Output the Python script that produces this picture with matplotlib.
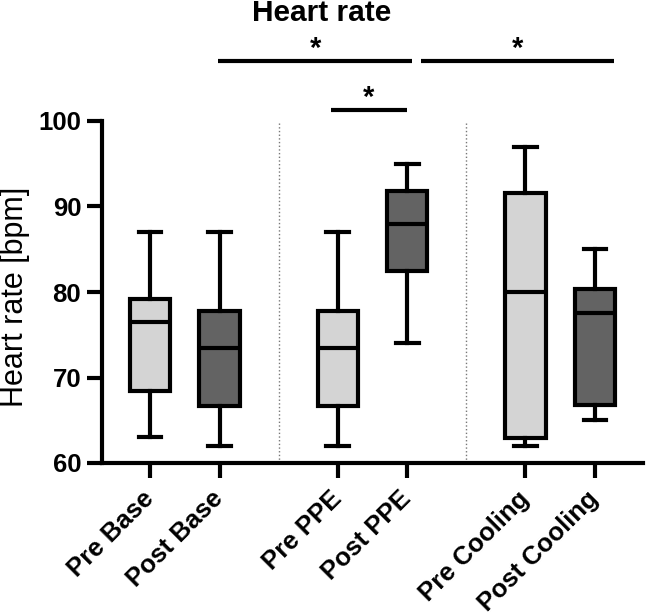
import matplotlib
matplotlib.use("Agg")
import matplotlib.pyplot as plt

plt.rcParams['font.family'] = ['Liberation Sans', 'DejaVu Sans']

# valeurs (bpm)
groups = ["Pre Base", "Post Base", "Pre PPE", "Post PPE", "Pre Cooling", "Post Cooling"]
whisker_low = [63, 62, 62, 74, 62, 65]
q1 = [68.4, 66.7, 66.7, 82.4, 62.9, 66.8]
median = [76.5, 73.5, 73.5, 88.0, 80.0, 77.5]
q3 = [79.2, 77.8, 77.8, 91.8, 91.6, 80.3]
whisker_high = [87, 87, 87, 95, 97, 85]
fills = ["#d4d4d4", "#636363"] * 3

# comparaisons significatives (indices des groupes) et niveau
comparisons = [(1, 3, 107.0), (3, 5, 107.0), (2, 3, 101.3)]
comp_labels = ["*", "*", "*"]

# positions : paires de boites avec un espace entre les conditions
pos = [(i // 2) * 2.7 + (i % 2) for i in range(len(groups))]

stats = []
for i, name in enumerate(groups):
    stats.append({"label": name, "med": median[i], "q1": q1[i], "q3": q3[i],
                  "whislo": whisker_low[i], "whishi": whisker_high[i], "fliers": []})

fig = plt.figure(figsize=(6.46, 6.16), dpi=100)
ax = fig.add_axes([102 / 646, 1 - 463 / 616, 541 / 646, 342 / 616])

bp = ax.bxp(stats, positions=pos, widths=0.58, patch_artist=True, showfliers=False,
            boxprops=dict(linewidth=3, edgecolor="black"),
            whiskerprops=dict(linewidth=3, color="black"),
            capprops=dict(linewidth=3, color="black"),
            medianprops=dict(linewidth=3, color="black"),
            capwidths=0.33)
for patch, c in zip(bp["boxes"], fills):
    patch.set_facecolor(c)

# séparateurs pointillés entre conditions
for k in (1, 3):
    ax.axvline((pos[k] + pos[k + 1]) / 2, color="#777777", linestyle=":", linewidth=1, zorder=0)

ax.set_xlim(pos[0] - 0.69, pos[-1] + 0.69)
ax.set_ylim(60, 100)
ax.set_yticks([60, 70, 80, 90, 100])
ax.set_xticks(pos)
ax.set_xticklabels(groups, rotation=45, ha="right", va="center", rotation_mode="anchor",
                   fontweight="bold", fontsize=18.5)
ax.set_yticklabels(["60", "70", "80", "90", "100"], fontweight="bold", fontsize=18.5)
ax.tick_params(axis="both", width=3, length=11, pad=4)
ax.tick_params(axis="x", pad=12)

for s in ("top", "right"):
    ax.spines[s].set_visible(False)
for s in ("left", "bottom"):
    ax.spines[s].set_linewidth(3)

fig.text(15 / 646, 1 - 297 / 616, "Heart rate [bpm]", rotation=90, ha="center", va="center",
         fontsize=22)

# barres de significativité
offsets = [(-0.02, 0.07), (0.2, 0.28), (-0.1, 0.0)]
for (a, b, y), lab, (oa, ob) in zip(comparisons, comp_labels, offsets):
    x0, x1 = pos[a] + oa, pos[b] + ob
    ax.plot([x0, x1], [y, y], color="black", linewidth=3, clip_on=False, solid_capstyle="butt")
    ax.text((x0 + x1) / 2, y + 0.45, lab, ha="center", va="baseline",
            fontsize=21, fontweight="bold")

fig.text(322 / 646, 1 - 13 / 616, "Heart rate", ha="center", va="center",
         fontsize=21.5, fontweight="bold")

fig.savefig("out.png", dpi=100)
